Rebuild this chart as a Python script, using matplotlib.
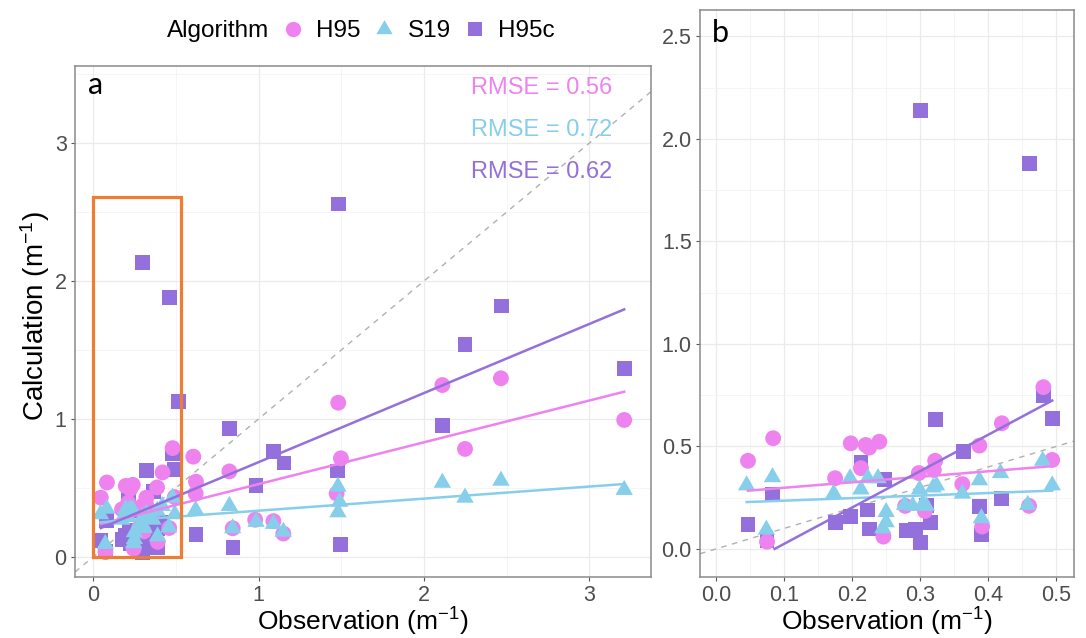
import numpy as np
import matplotlib
matplotlib.use("Agg")
import matplotlib.pyplot as plt
from matplotlib.lines import Line2D
from matplotlib.patches import Rectangle
from matplotlib.ticker import MultipleLocator, FormatStrFormatter

plt.rcParams['font.family'] = ['Liberation Sans', 'DejaVu Sans']
plt.rcParams['mathtext.fontset'] = 'custom'
plt.rcParams['mathtext.rm'] = 'Liberation Sans'
plt.rcParams['mathtext.it'] = 'Liberation Sans:italic'
plt.rcParams['mathtext.bf'] = 'Liberation Sans:bold'

# ---------------- data ----------------
algorithms = ['H95', 'S19', 'H95c']

h95_obs = [0.047, 0.084, 0.075, 0.175, 0.198, 0.213, 0.220, 0.225, 0.240, 0.246,
           0.278, 0.298, 0.307, 0.320, 0.322, 0.362, 0.387, 0.391, 0.420, 0.460,
           0.481, 0.494, 0.606, 0.622, 0.620, 0.824, 0.844, 0.980, 1.090, 1.150,
           1.472, 1.482, 1.498, 2.111, 2.248, 2.465, 3.210]
h95_calc = [0.430, 0.540, 0.035, 0.345, 0.515, 0.394, 0.507, 0.494, 0.523, 0.060,
            0.210, 0.370, 0.185, 0.385, 0.430, 0.316, 0.504, 0.109, 0.613, 0.210,
            0.789, 0.434, 0.727, 0.546, 0.460, 0.620, 0.208, 0.270, 0.260, 0.170,
            0.460, 1.118, 0.715, 1.246, 0.783, 1.295, 0.993]

s19_obs = [0.045, 0.083, 0.074, 0.173, 0.197, 0.213, 0.223, 0.238, 0.250, 0.250,
           0.245, 0.277, 0.289, 0.299, 0.304, 0.309, 0.319, 0.324, 0.362, 0.387,
           0.390, 0.418, 0.458, 0.480, 0.494, 0.620, 0.824, 0.844, 0.985, 1.090,
           1.150, 1.480, 1.490, 1.480, 2.111, 2.248, 2.465, 3.210]
s19_calc = [0.310, 0.350, 0.094, 0.270, 0.345, 0.290, 0.345, 0.345, 0.180, 0.130,
            0.100, 0.215, 0.210, 0.290, 0.220, 0.210, 0.300, 0.310, 0.270, 0.335,
            0.150, 0.370, 0.215, 0.430, 0.310, 0.340, 0.370, 0.208, 0.255, 0.240,
            0.183, 0.510, 0.400, 0.324, 0.538, 0.430, 0.553, 0.486]

h95c_obs = [0.047, 0.083, 0.075, 0.175, 0.198, 0.213, 0.222, 0.225, 0.248, 0.280,
            0.293, 0.300, 0.300, 0.309, 0.315, 0.322, 0.363, 0.387, 0.390, 0.420,
            0.460, 0.481, 0.494, 0.516, 0.622, 0.824, 0.846, 0.985, 1.090, 1.154,
            1.480, 1.486, 1.498, 2.111, 2.248, 2.471, 3.210]
h95c_calc = [0.120, 0.265, 0.040, 0.127, 0.158, 0.420, 0.190, 0.097, 0.340, 0.088,
             0.093, 0.030, 2.137, 0.210, 0.128, 0.630, 0.475, 0.206, 0.068, 0.247,
             1.880, 0.750, 0.637, 1.125, 0.160, 0.930, 0.070, 0.516, 0.763, 0.681,
             0.623, 2.558, 0.092, 0.956, 1.543, 1.819, 1.367]

# linear fits as drawn in each panel (intercept, slope)
fit_a_intercept = [0.225, 0.248, 0.186]
fit_a_slope = [0.303, 0.0875, 0.501]
fit_b_intercept = [0.2715, 0.223, -0.153]
fit_b_slope = [0.268, 0.124, 1.775]

rmse_values = [0.56, 0.72, 0.62]
zoom_box_obs = [0.0, 0.53]
zoom_box_calc = [0.0, 2.61]
panel_b_max_obs = 0.5

# ---------------- styling ----------------
colors = ['#EE82EE', '#87CEEB', '#9370DB']
tri = [(0, 1), (-0.866, -0.5), (0.866, -0.5), (0, 1)]
markers = ['o', tri, 's']
sizes = [130, 210, 115]
obs = [h95_obs, s19_obs, h95c_obs]
calc = [h95_calc, s19_calc, h95c_calc]

W, H = 1086, 638
fig = plt.figure(figsize=(W / 100, H / 100), dpi=100)


def rect(l, t, r, b):
    return [l / W, 1 - b / H, (r - l) / W, (b - t) / H]


axA = fig.add_axes(rect(75, 66, 651, 577))
axB = fig.add_axes(rect(700, 10, 1074, 577))


def style(ax, xmaj, xmin, ymaj, ymin, xfmt, yfmt):
    ax.set_facecolor('white')
    ax.xaxis.set_major_locator(MultipleLocator(xmaj))
    ax.xaxis.set_minor_locator(MultipleLocator(xmin))
    ax.yaxis.set_major_locator(MultipleLocator(ymaj))
    ax.yaxis.set_minor_locator(MultipleLocator(ymin))
    ax.xaxis.set_major_formatter(FormatStrFormatter(xfmt))
    ax.yaxis.set_major_formatter(FormatStrFormatter(yfmt))
    ax.grid(which='major', color='#EBEBEB', lw=0.9)
    ax.grid(which='minor', color='#F2F2F2', lw=0.5)
    ax.set_axisbelow(True)
    for s in ax.spines.values():
        s.set_color('#8A8A8A')
        s.set_linewidth(1.1)
    ax.tick_params(which='major', length=3, width=0.8, color='#555555',
                   labelsize=15.5, labelcolor='#4D4D4D', pad=3)
    ax.tick_params(which='minor', length=0)


style(axA, 1, 0.5, 1, 0.5, '%d', '%d')
style(axB, 0.1, 0.05, 0.5, 0.25, '%.1f', '%.1f')

axA.set_xlim(-0.109, 3.372)
axA.set_ylim(-0.145, 3.558)
axB.set_xlim(-0.0235, 0.526)
axB.set_ylim(-0.137, 2.629)

for ax in (axA, axB):
    ax.axline((0, 0), slope=1, color='#B0B0B0', ls=(0, (4, 4)), lw=1.0, zorder=1)

# points
for ax, panel in ((axA, 'a'), (axB, 'b')):
    for i in [2, 0, 1]:
        x = np.array(obs[i])
        y = np.array(calc[i])
        if panel == 'b':
            m = x <= panel_b_max_obs
            x, y = x[m], y[m]
        ax.scatter(x, y, s=sizes[i], marker=markers[i], color=colors[i],
                   edgecolors='none', zorder=3)

# fitted lines
for i in range(3):
    x = np.array(obs[i])
    x0, x1 = x.min(), x.max()
    xs = np.array([x0, x1])
    axA.plot(xs, fit_a_intercept[i] + fit_a_slope[i] * xs, color=colors[i], lw=1.8, zorder=4)
    xb = x[x <= panel_b_max_obs]
    b0, b1 = xb.min(), xb.max()
    if fit_b_intercept[i] + fit_b_slope[i] * b0 < 0:
        b0 = -fit_b_intercept[i] / fit_b_slope[i]
    xs = np.array([b0, b1])
    axB.plot(xs, fit_b_intercept[i] + fit_b_slope[i] * xs, color=colors[i], lw=1.8, zorder=4)

# RMSE annotations
rmse_y = [3.40, 3.094, 2.79]
for i in range(3):
    axA.text(3.136, rmse_y[i], f"RMSE = {rmse_values[i]:.2f}", color=colors[i],
             ha='right', va='center', fontsize=17, zorder=2)

# zoom box
axA.add_patch(Rectangle((zoom_box_obs[0], zoom_box_calc[0]),
                        zoom_box_obs[1] - zoom_box_obs[0],
                        zoom_box_calc[1] - zoom_box_calc[0],
                        fill=False, ec='#ED7D31', lw=2.3, zorder=6))

# labels
xlabel = r'Observation (m$^{\mathregular{-1}}$)'
axA.set_xlabel(xlabel, fontsize=19)
axB.set_xlabel(xlabel, fontsize=19)
axA.xaxis.set_label_coords(0.5, -(606 - 577) / 511)
axB.xaxis.set_label_coords(0.5, -(606 - 577) / 567)
axA.set_ylabel(r'Calculation (m$^{\mathregular{-1}}$)', fontsize=20)
axA.yaxis.set_label_coords(-(75 - 52) / 576, (577 - 316) / 511)

axA.text(0.0226, 0.963, 'a', transform=axA.transAxes, fontsize=22,
         family=['Lato', 'DejaVu Sans'], va='center', ha='left')
axB.text(0.032, 0.9595, 'b', transform=axB.transAxes, fontsize=22,
         family=['Lato', 'DejaVu Sans'], va='center', ha='left')

# legend
fig.text(167 / W, 1 - 31 / H, 'Algorithm', fontsize=17.5, va='center', ha='left')
handles = [Line2D([], [], ls='none', marker=markers[i], color=colors[i],
                  markeredgewidth=0, markersize=[11, 13.5, 10][i]) for i in range(3)]
fig.legend(handles, algorithms, loc='center left', bbox_to_anchor=(283 / W, 1 - 31 / H),
           ncol=3, frameon=False, fontsize=17.5, handlelength=0.8, handletextpad=0.55,
           columnspacing=0.59, borderpad=0, borderaxespad=0)

fig.savefig('out.png', dpi=100)
